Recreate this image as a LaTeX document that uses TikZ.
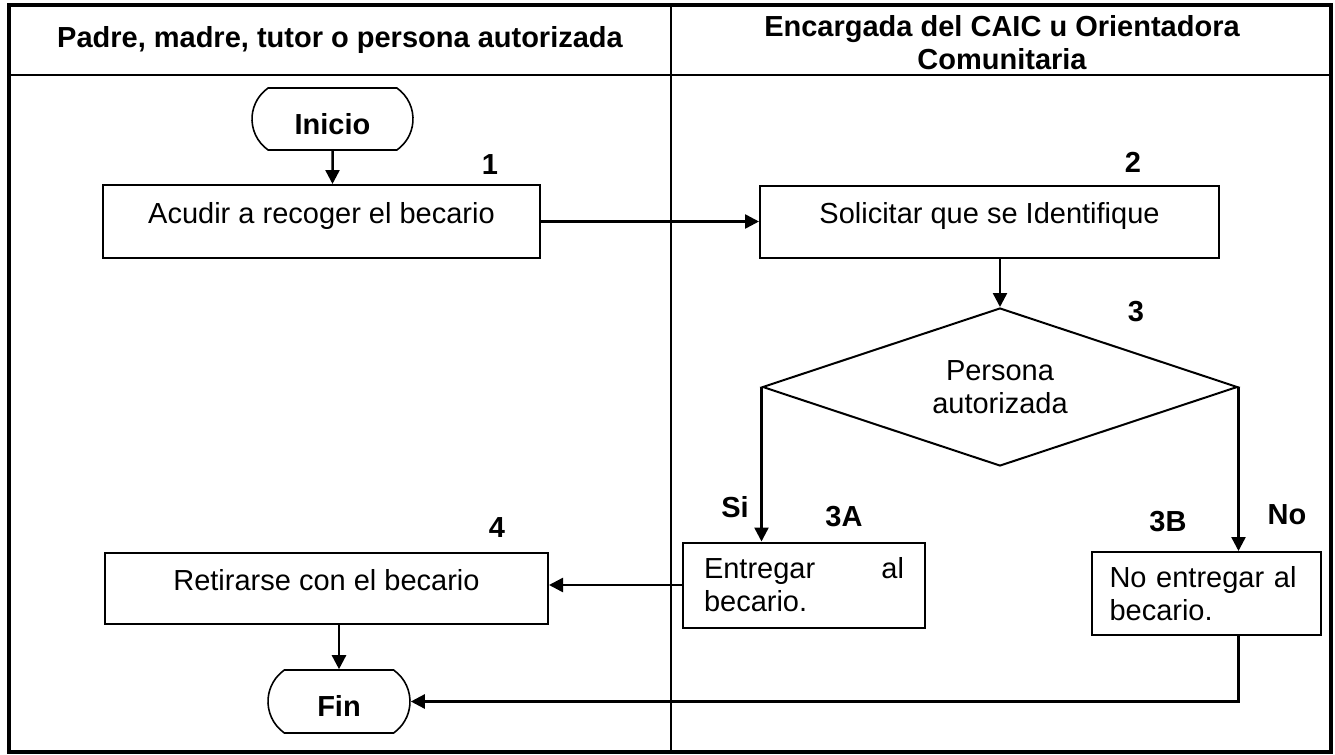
\documentclass[tikz,border=0pt]{standalone}
\usepackage{fontspec}
\setmainfont{Liberation Sans}
\usepackage{tikz}
\usetikzlibrary{shapes.geometric, shapes.misc, arrows.meta}
\tikzset{
  stepbox/.style={ draw, line width=1pt, rectangle, inner sep=0pt, font=\fontsize{14.5}{16.5}\selectfont }
}
\tikzset{
  termbox/.style={ draw, line width=0.8pt, rounded rectangle, rounded rectangle arc length=110, inner sep=0pt, text height=15pt, text depth=0pt, font=\bfseries\fontsize{14.5}{16.5}\selectfont }
}
\tikzset{
  decbox/.style={ draw, line width=1pt, diamond, aspect=3, inner sep=0pt, align=center, font=\fontsize{14.5}{16.5}\selectfont }
}
\tikzset{
  numlbl/.style={ font=\bfseries\fontsize{14.5}{16.5}\selectfont }
}
\tikzset{
  arr/.style={ line width=1.25pt, -{Triangle[length=7pt, width=7pt]} }
}

\begin{document}
\begin{tikzpicture}[x=0.5pt, y=-0.5pt]
      \useasboundingbox (0, 0) rectangle (1335, 755);

      % table
      \draw[line width=1.75pt] (9, 5) rectangle (1331, 752);
      \draw[line width=1pt] (9, 75) -- (1331, 75);
      \draw[line width=1pt] (671, 5) -- (671, 752);
      \node[numlbl] (hd1) at (340, 40) {Padre, madre, tutor o persona autorizada};
      \node[numlbl, align=center] (hd2) at (1002, 43) {Encargada del CAIC u Orientadora\\Comunitaria};

      % left lane
      \node[termbox, minimum width=80.5pt, minimum height=31pt] (ini) at (332.5, 119) {Inicio};
      \node[stepbox, minimum width=218.5pt, minimum height=36.5pt, text depth=9pt] (acu) at (321.5, 221.5) {Acudir a recoger el becario};
      \node[numlbl] (n1) at (490, 165) {1};

      \node[stepbox, minimum width=221.5pt, minimum height=35.5pt, text depth=8.5pt] (ret) at (326.5, 588.5) {Retirarse con el becario};
      \node[numlbl] (n4) at (497, 528) {4};
      \node[termbox, minimum width=71pt, minimum height=31.5pt] (fin) at (339, 701.5) {Fin};

      % right lane
      \node[stepbox, minimum width=229.5pt, minimum height=36pt, text depth=9pt] (sol) at (989.5, 222) {Solicitar que se Identifique};
      \node[numlbl] (n2) at (1133, 162) {2};

      \node[decbox, minimum width=237.5pt, minimum height=79pt] (dec) at (1000, 387) {Persona\\autorizada};
      \node[numlbl] (n3) at (1136, 312) {3};

      \node[stepbox, minimum width=121pt, minimum height=42.5pt, text width=100pt] (ent) at (804, 585) {Entregar\hfill al\\becario.};
      \node[numlbl] (n3a) at (844, 517) {3A};
      \node[numlbl] (si) at (735, 507) {Si};

      \node[stepbox, minimum width=114.5pt, minimum height=41.5pt, text width=97pt, align=left] (noe) at (1206.5, 593.5) {No entregar al\\becario.};
      \node[numlbl] (n3b) at (1168, 522) {3B};
      \node[numlbl] (no) at (1287, 515) {No};

      \draw[arr] (ini) -- (ini.south |- acu.north);
      \draw[arr] (acu.east) -- (acu.east -| sol.west);
      \draw[arr] (sol.south -| dec.north) -- (dec.north);
      \draw[arr] (dec.west) -- (dec.west |- ent.north);
      \draw[arr] (dec.east) -- (dec.east |- noe.north);
      \draw[arr] (ent.west) -- (ent.west -| ret.east);
      \draw[arr] (ret.south -| fin.north) -- (fin.north);
      \draw[arr] (dec.east |- noe.south) |- (fin.east);
    \end{tikzpicture}
\end{document}
